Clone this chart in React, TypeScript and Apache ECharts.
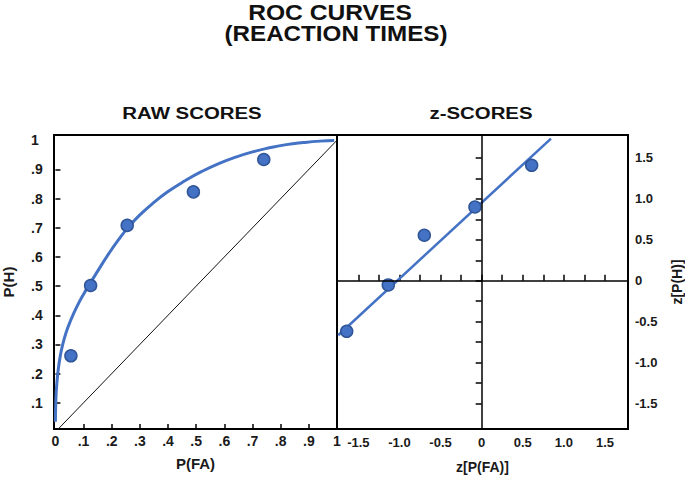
import React, { useEffect, useRef } from "react";
import * as echarts from "echarts";

// ---- data ----
// RAW SCORES panel: fitted ROC curve
const curveFA = [0, 0.002, 0.005, 0.01, 0.017, 0.026, 0.038, 0.054, 0.075, 0.1, 0.125, 0.155, 0.19, 0.225, 0.26, 0.3, 0.345, 0.4, 0.46, 0.52, 0.58, 0.64, 0.7, 0.76, 0.82, 0.88, 0.94, 0.99];
const curveH = [0.035, 0.12, 0.166, 0.213, 0.259, 0.3, 0.341, 0.382, 0.427, 0.472, 0.512, 0.559, 0.612, 0.66, 0.703, 0.744, 0.783, 0.824, 0.861, 0.893, 0.92, 0.942, 0.96, 0.974, 0.985, 0.992, 0.997, 0.999];
// observed points
const pointsFA = [0.055, 0.125, 0.255, 0.49, 0.74];
const pointsH = [0.261, 0.502, 0.708, 0.823, 0.934];
// chance diagonal
const chanceFA = [0, 1];
const chanceH = [0, 1];
// z-SCORES panel
const zFA = [-1.642, -1.136, -0.698, -0.082, 0.608];
const zH = [-0.617, -0.051, 0.556, 0.901, 1.41];
const fitZFA = [-1.745, 0.843];
const fitZH = [-0.665, 1.736];
// ticks / labels
const rawTicks = [0.1, 0.2, 0.3, 0.4, 0.5, 0.6, 0.7, 0.8, 0.9];
const rawLabelsX = [0, 0.1, 0.2, 0.3, 0.4, 0.5, 0.6, 0.7, 0.8, 0.9, 1];
const rawLabelsY = [0.1, 0.2, 0.3, 0.4, 0.5, 0.6, 0.7, 0.8, 0.9, 1];
const zTicks = [-1.5, -1.25, -1, -0.75, -0.5, -0.25, 0, 0.25, 0.5, 0.75, 1, 1.25, 1.5];
const zLabels = [-1.5, -1, -0.5, 0, 0.5, 1, 1.5];

const BLUE = "#4472C4";
const BLUE_EDGE = "#2F5597";
const FONT = "'Liberation Sans', Arial, Helvetica, sans-serif";

const rawFmt = (v: number) => (v === 0 ? "0" : v === 1 ? "1" : "." + Math.round(v * 10));
const zFmt = (v: number) => (Math.abs(v) < 1e-9 ? "0" : v.toFixed(1));

export default function App() {
  const ref = useRef<HTMLDivElement>(null);
  useEffect(() => {
    document.body.style.margin = "0";
    if (!ref.current) return;
    const chart = echarts.init(ref.current, undefined, { renderer: "svg" });
    const labelStyle = { color: "#1a1a1a", fontWeight: "bold" as const, fontFamily: FONT };
    const option: any = {
      animation: false,
      backgroundColor: "#ffffff",
      graphic: [
        { type: "text", x: 330, y: 12, scaleX: 1.12, style: { text: "ROC CURVES", font: `bold 22px ${FONT}`, fill: "#111", textAlign: "center", textVerticalAlign: "middle" } },
        { type: "text", x: 336, y: 33.5, scaleX: 1.1, style: { text: "(REACTION TIMES)", font: `bold 22px ${FONT}`, fill: "#111", textAlign: "center", textVerticalAlign: "middle" } },
        { type: "text", x: 192, y: 113.5, scaleX: 1.2, style: { text: "RAW SCORES", font: `bold 17px ${FONT}`, fill: "#111", textAlign: "center", textVerticalAlign: "middle" } },
        { type: "text", x: 481, y: 113.5, scaleX: 1.2, style: { text: "z-SCORES", font: `bold 17px ${FONT}`, fill: "#111", textAlign: "center", textVerticalAlign: "middle" } },
      ],
      grid: [
        { left: 49, top: 135, width: 288, height: 294, show: true, borderColor: "#000", borderWidth: 2, backgroundColor: "transparent" },
        { left: 337, top: 135, width: 291, height: 294, show: true, borderColor: "#000", borderWidth: 2, backgroundColor: "transparent" },
      ],
      xAxis: [
        {
          type: "value", gridIndex: 0, min: -0.005, max: 1,
          axisLine: { show: false }, splitLine: { show: false },
          axisTick: { show: true, inside: true, length: 5, customValues: rawTicks, lineStyle: { color: "#000", width: 1.5 } },
          axisLabel: { ...labelStyle, fontSize: 14, margin: 5, customValues: rawLabelsX, formatter: rawFmt },
          name: "P(FA)", nameLocation: "middle", nameGap: 27,
          nameTextStyle: { ...labelStyle, fontSize: 15 },
        },
        {
          type: "value", gridIndex: 1, min: -1.76, max: 1.78,
          axisLine: { show: false }, splitLine: { show: false },
          axisTick: { show: true, inside: true, length: 6, customValues: zTicks, lineStyle: { color: "#000", width: 1.5 } },
          axisLabel: { ...labelStyle, fontSize: 13, margin: 7, customValues: zLabels, formatter: zFmt },
          name: "z[P(FA)]", nameLocation: "middle", nameGap: 31,
          nameTextStyle: { ...labelStyle, fontSize: 14 },
        },
      ],
      yAxis: [
        {
          type: "value", gridIndex: 0, min: 0.01, max: 1.018,
          axisLine: { show: false }, splitLine: { show: false },
          axisTick: { show: true, inside: true, length: 5, customValues: rawTicks, lineStyle: { color: "#000", width: 1.5 } },
          axisLabel: { ...labelStyle, fontSize: 14, margin: 23, align: "left", customValues: rawLabelsY, formatter: rawFmt },
          name: "P(H)", nameLocation: "middle", nameGap: 38,
          nameTextStyle: { ...labelStyle, fontSize: 15 },
        },
        {
          type: "value", gridIndex: 1, position: "right", min: -1.81, max: 1.78,
          axisLine: { show: false }, splitLine: { show: false },
          axisTick: { show: true, inside: true, length: 6, customValues: zTicks, lineStyle: { color: "#000", width: 1.5 } },
          axisLabel: { ...labelStyle, fontSize: 13, margin: 7, customValues: zLabels, formatter: zFmt },
          name: "z[P(H)]", nameLocation: "middle", nameGap: 42,
          nameTextStyle: { ...labelStyle, fontSize: 14 },
        },
      ],
      series: [
        {
          type: "line", xAxisIndex: 0, yAxisIndex: 0, z: 2, silent: true, clip: true,
          data: chanceFA.map((x, i) => [x, chanceH[i]]),
          showSymbol: false, symbol: "none",
          lineStyle: { color: "#111", width: 1 },
        },
        {
          type: "line", xAxisIndex: 0, yAxisIndex: 0, z: 3, silent: true,
          data: curveFA.map((x, i) => [x, curveH[i]]),
          showSymbol: false, symbol: "none", smooth: 0.5,
          lineStyle: { color: BLUE, width: 3 },
        },
        {
          type: "scatter", xAxisIndex: 0, yAxisIndex: 0, z: 4,
          data: pointsFA.map((x, i) => [x, pointsH[i]]),
          symbolSize: 12,
          itemStyle: { color: BLUE, borderColor: BLUE_EDGE, borderWidth: 1.5, opacity: 1 },
        },
        {
          type: "line", xAxisIndex: 1, yAxisIndex: 1, z: 1, silent: true,
          data: [],
          markLine: {
            silent: true, symbol: "none", animation: false,
            label: { show: false },
            lineStyle: { color: "#000", width: 1.5, type: "solid" },
            data: [{ xAxis: 0 }, { yAxis: 0 }],
          },
        },
        {
          type: "line", xAxisIndex: 1, yAxisIndex: 1, z: 3, silent: true,
          data: fitZFA.map((x, i) => [x, fitZH[i]]),
          showSymbol: false, symbol: "none",
          lineStyle: { color: BLUE, width: 2.5 },
        },
        {
          type: "scatter", xAxisIndex: 1, yAxisIndex: 1, z: 4,
          data: zFA.map((x, i) => [x, zH[i]]),
          symbolSize: 12,
          itemStyle: { color: BLUE, borderColor: BLUE_EDGE, borderWidth: 1.5, opacity: 1 },
        },
      ],
    };
    chart.setOption(option);
    return () => chart.dispose();
  }, []);
  return <div ref={ref} style={{ width: 685, height: 482 }} />;
}
